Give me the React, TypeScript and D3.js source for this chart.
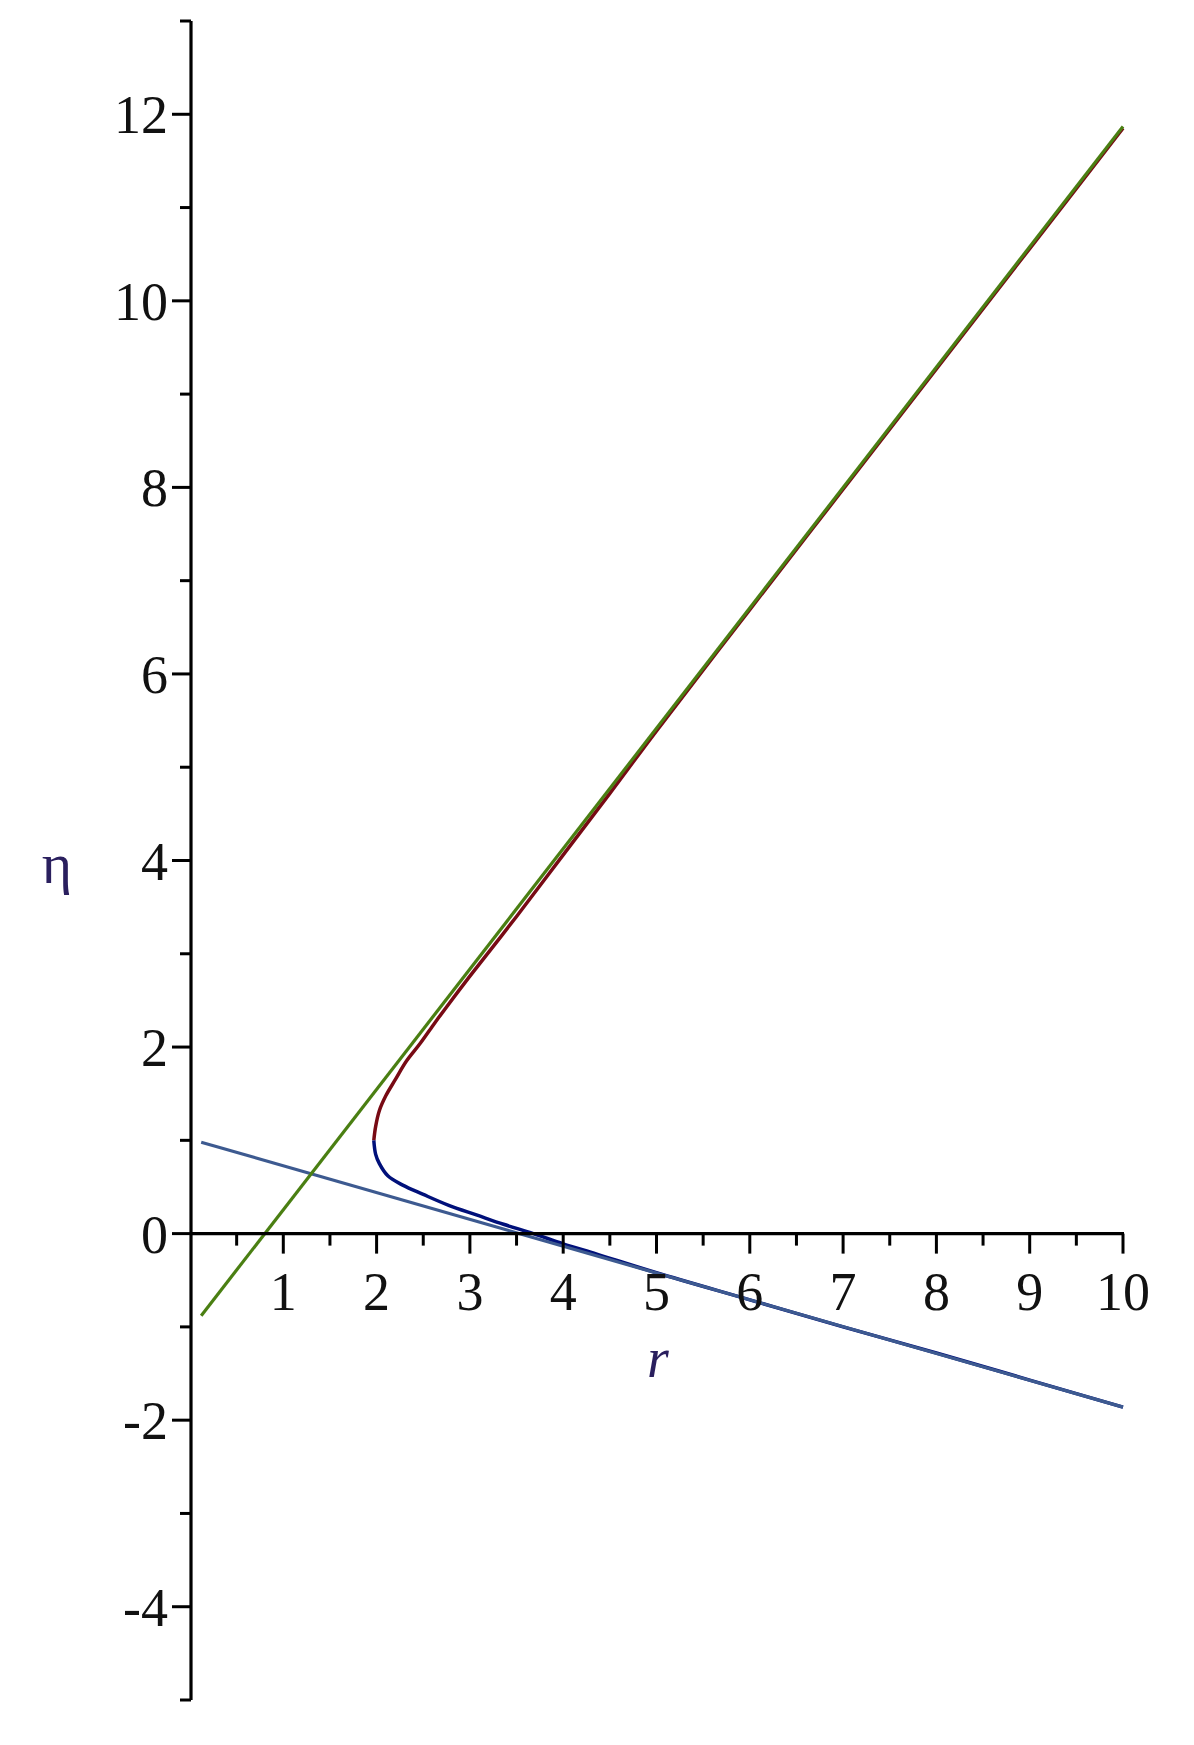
import * as d3 from 'd3';

// data (r, eta)
const asymptoteUpR = [0.12, 10];
const asymptoteUpEta = [-0.88, 11.87];

const asymptoteDownR = [0.12, 10];
const asymptoteDownEta = [0.98, -1.86];

const upperR = [1.97, 1.99, 2.03, 2.1, 2.2, 2.32, 2.46, 2.61, 2.75, 3.0, 3.5, 4.0, 4.5, 5, 6, 7, 8, 9, 10];
const upperEta = [1.0, 1.15, 1.32, 1.48, 1.65, 1.85, 2.03, 2.24, 2.43, 2.76, 3.4, 4.06, 4.72, 5.39, 6.69, 7.98, 9.27, 10.56, 11.85];

const lowerR = [1.97, 1.99, 2.03, 2.12, 2.28, 2.5, 2.78, 3.07, 3.36, 3.68, 4.0, 4.36, 5, 6, 7, 8, 9, 10];
const lowerEta = [1.0, 0.85, 0.75, 0.62, 0.52, 0.42, 0.3, 0.2, 0.1, 0.0, -0.11, -0.22, -0.42, -0.71, -1.0, -1.28, -1.57, -1.86];

const xMajorTicks = [1, 2, 3, 4, 5, 6, 7, 8, 9, 10];
const xMinorTicks = [0.5, 1.5, 2.5, 3.5, 4.5, 5.5, 6.5, 7.5, 8.5, 9.5];
const yMajorTicks = [-4, -2, 0, 2, 4, 6, 8, 10, 12];
const yMinorTicks = [-5, -3, -1, 1, 3, 5, 7, 9, 11, 13];

const W = 1194;
const H = 1745;
const font = '"Liberation Serif", "Times New Roman", serif';

export default function App() {
  const x = d3.scaleLinear().domain([0, 10]).range([190, 1123]);
  const y = d3.scaleLinear().domain([-5, 13]).range([1700, 21]);

  const zip = (a: number[], b: number[]) => a.map((v, i) => [v, b[i]] as [number, number]);

  const straight = d3.line<[number, number]>()
    .x(d => x(d[0]))
    .y(d => y(d[1]));

  const smooth = d3.line<[number, number]>()
    .x(d => x(d[0]))
    .y(d => y(d[1]))
    .curve(d3.curveCatmullRom);

  const ax = x(0) + 1; // y axis position
  const ay = y(0);     // x axis position

  return (
    <svg width={W} height={H} style={{ position: 'absolute', left: 0, top: 0, background: '#fff' }}>
      {/* curves */}
      <path d={smooth(zip(upperR, upperEta)) || ''} fill="none" stroke="#780a14" strokeWidth={3.5} />
      <path d={smooth(zip(lowerR, lowerEta)) || ''} fill="none" stroke="#00107a" strokeWidth={3.5} />
      <path d={straight(zip(asymptoteDownR, asymptoteDownEta)) || ''} fill="none" stroke="#3d5a90" strokeWidth={3.2} />
      <path d={straight(zip(asymptoteUpR, asymptoteUpEta)) || ''} fill="none" stroke="#4a7f12" strokeWidth={3.2} />

      {/* y axis */}
      <line x1={ax} x2={ax} y1={y(13)} y2={y(-5)} stroke="#000" strokeWidth={3.2} />
      {yMinorTicks.map(t => (
        <line key={'ym' + t} x1={ax - 11} x2={ax} y1={y(t)} y2={y(t)} stroke="#000" strokeWidth={3} />
      ))}
      {yMajorTicks.map(t => (
        <g key={'yM' + t}>
          <line x1={ax - 19} x2={ax} y1={y(t)} y2={y(t)} stroke="#000" strokeWidth={3} />
          <text x={168} y={y(t) + 19} textAnchor="end" fontFamily={font} fontSize={54} fill="#111">
            {t < 0 ? '-' + Math.abs(t) : String(t)}
          </text>
        </g>
      ))}

      {/* x axis */}
      <line x1={ax} x2={x(10) + 1} y1={ay} y2={ay} stroke="#000" strokeWidth={3.2} />
      {xMinorTicks.map(t => (
        <line key={'xm' + t} x1={x(t)} x2={x(t)} y1={ay} y2={ay + 12} stroke="#000" strokeWidth={3} />
      ))}
      {xMajorTicks.map(t => (
        <g key={'xM' + t}>
          <line x1={x(t)} x2={x(t)} y1={ay} y2={ay + 20} stroke="#000" strokeWidth={3} />
          <text x={x(t)} y={1310} textAnchor="middle" fontFamily={font} fontSize={54} fill="#111">
            {String(t)}
          </text>
        </g>
      ))}

      {/* axis titles */}
      <text x={658} y={1377} textAnchor="middle" fontFamily={font} fontStyle="italic" fontSize={56} fill="#2a1f5e">r</text>
      <text x={57} y={883} textAnchor="middle" fontFamily={font} fontSize={58} fill="#2a1f5e">η</text>
    </svg>
  );
}
